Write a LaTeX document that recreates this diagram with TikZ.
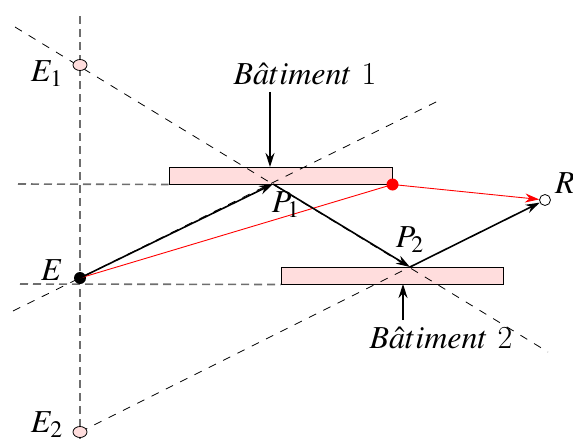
\documentclass[tikz,border=0pt]{standalone}
\usepackage{mathptmx}
\usetikzlibrary{positioning, arrows.meta, shapes.geometric}
\definecolor{wallpink}{HTML}{FFDDDD}
\definecolor{guidegray}{HTML}{6E6E6E}

\begin{document}
\begin{tikzpicture}[x=0.5pt, y=-0.5pt, font=\fontsize{16}{19}\selectfont,
    wall/.style={draw, fill=wallpink, line width=0.5pt, inner sep=0pt},
    guide/.style={guidegray, line width=0.8pt, dash pattern=on 4pt off 2.5pt},
    mirror/.style={line width=0.4pt, dash pattern=on 4pt off 4pt},
    ray/.style={-{Stealth[length=7pt, width=4.5pt]}, line width=0.8pt},
    redray/.style={red, line width=0.45pt},
    source/.style={circle, fill=black, inner sep=0pt, minimum size=6pt},
    image/.style={ellipse, draw, fill=wallpink, line width=0.4pt, inner sep=0pt,
                  minimum width=7pt, minimum height=5.5pt},
    pointer/.style={-{Stealth[length=7pt, width=4.5pt]}, line width=0.6pt}]
  \useasboundingbox (0,0) rectangle (573,439);

  % buildings
  \node[wall, minimum width=111.5pt, minimum height=8.5pt] (bat1) at (280.5,175.5) {};
  \node[wall, minimum width=111pt, minimum height=8.5pt] (bat2) at (392,275.5) {};

  % guide lines
  \draw[guide] (80,16) -- (80,439);
  \draw[guide] (18,184) -- (bat1.south west);
  \draw[guide] (20,284) -- (bat2.south west);

  % points
  \coordinate (P1) at (273,184);
  \coordinate (P2) at (410,267);
  \coordinate (corner) at (bat1.south east);
  \coordinate (top1) at (270,167);
  \coordinate (bottom2) at (403,284);

  % mirror lines
  \draw[mirror] (15,27) -- (548,352);
  \draw[mirror] (13,311) -- (440,100);
  \draw[mirror] (80,432) -- (P2);

  % sources and receiver
  \node[image] (E1) at (80,65) {};
  \node[image] (E2) at (80,432) {};
  \node[source] (E) at (80,278) {};
  \node[circle, draw, fill=white, inner sep=0pt, minimum size=5.5pt, line width=0.4pt] (R) at (545,200) {};
  \node[circle, fill=red, inner sep=0pt, minimum size=6pt] (hit) at (corner) {};

  % rays
  \draw[redray] (E.center) -- (hit.center);
  \draw[redray, -{Stealth[length=7pt, width=4.5pt]}] (hit.center) -- (R);
  \draw[ray] (E.center) -- (P1);
  \draw[ray] (P1) -- (P2);
  \draw[ray] (P2) -- (R);

  % labels
  \node (lE) at (52,270) {$E$};
  \node (lE1) at (47,74) {$E_1$};
  \node (lE2) at (47,425) {$E_2$};
  \node (lP1) at (286,205) {$P_1$};
  \node (lP2) at (410,240) {$P_2$};
  \node (lR) at (565,183) {$R$};
  \node (lbat1) at (305,74) {$B\hat{a}timent$ 1};
  \node (lbat2) at (441,338) {$B\hat{a}timent$ 2};
  \draw[pointer] (lbat1.south -| top1) -- (top1);
  \draw[pointer] (lbat2.north -| bottom2) -- (bottom2);
\end{tikzpicture}
\end{document}
